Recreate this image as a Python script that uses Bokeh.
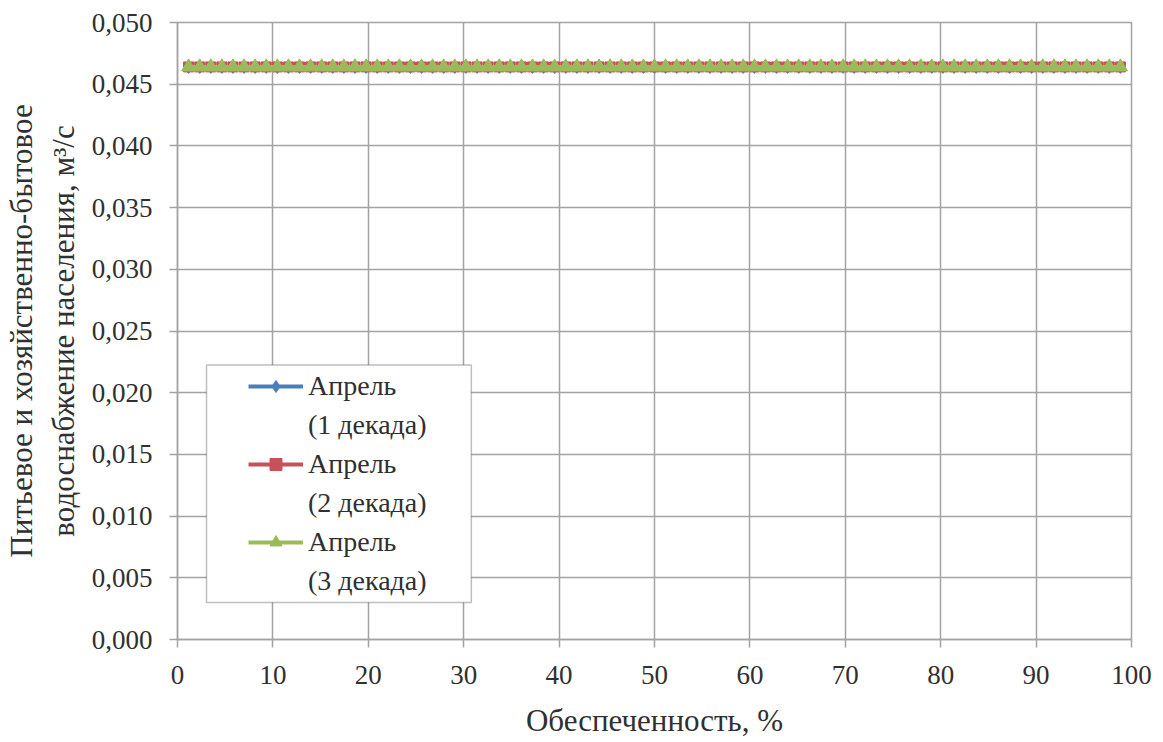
from bokeh.plotting import figure
from bokeh.models import (Range1d, FixedTicker, CustomJSTickFormatter, Legend,
                          LegendItem, BoxAnnotation, ColumnDataSource)
from bokeh.embed import file_html
from bokeh.resources import INLINE

# ---- data ----
probability = [
    1.16, 2.33, 3.49, 4.65, 5.81, 6.98, 8.14, 9.30, 10.47, 11.63,
    12.79, 13.95, 15.12, 16.28, 17.44, 18.60, 19.77, 20.93, 22.09, 23.26,
    24.42, 25.58, 26.74, 27.91, 29.07, 30.23, 31.40, 32.56, 33.72, 34.88,
    36.05, 37.21, 38.37, 39.53, 40.70, 41.86, 43.02, 44.19, 45.35, 46.51,
    47.67, 48.84, 50.00, 51.16, 52.33, 53.49, 54.65, 55.81, 56.98, 58.14,
    59.30, 60.47, 61.63, 62.79, 63.95, 65.12, 66.28, 67.44, 68.60, 69.77,
    70.93, 72.09, 73.26, 74.42, 75.58, 76.74, 77.91, 79.07, 80.23, 81.40,
    82.56, 83.72, 84.88, 86.05, 87.21, 88.37, 89.53, 90.70, 91.86, 93.02,
    94.19, 95.35, 96.51, 97.67, 98.84,
]
april_1 = [
    0.0464, 0.0464, 0.0464, 0.0464, 0.0464, 0.0464, 0.0464, 0.0464, 0.0464, 0.0464,
    0.0464, 0.0464, 0.0464, 0.0464, 0.0464, 0.0464, 0.0464, 0.0464, 0.0464, 0.0464,
    0.0464, 0.0464, 0.0464, 0.0464, 0.0464, 0.0464, 0.0464, 0.0464, 0.0464, 0.0464,
    0.0464, 0.0464, 0.0464, 0.0464, 0.0464, 0.0464, 0.0464, 0.0464, 0.0464, 0.0464,
    0.0464, 0.0464, 0.0464, 0.0464, 0.0464, 0.0464, 0.0464, 0.0464, 0.0464, 0.0464,
    0.0464, 0.0464, 0.0464, 0.0464, 0.0464, 0.0464, 0.0464, 0.0464, 0.0464, 0.0464,
    0.0464, 0.0464, 0.0464, 0.0464, 0.0464, 0.0464, 0.0464, 0.0464, 0.0464, 0.0464,
    0.0464, 0.0464, 0.0464, 0.0464, 0.0464, 0.0464, 0.0464, 0.0464, 0.0464, 0.0464,
    0.0464, 0.0464, 0.0464, 0.0464, 0.0464,
]
april_2 = [
    0.0464, 0.0464, 0.0464, 0.0464, 0.0464, 0.0464, 0.0464, 0.0464, 0.0464, 0.0464,
    0.0464, 0.0464, 0.0464, 0.0464, 0.0464, 0.0464, 0.0464, 0.0464, 0.0464, 0.0464,
    0.0464, 0.0464, 0.0464, 0.0464, 0.0464, 0.0464, 0.0464, 0.0464, 0.0464, 0.0464,
    0.0464, 0.0464, 0.0464, 0.0464, 0.0464, 0.0464, 0.0464, 0.0464, 0.0464, 0.0464,
    0.0464, 0.0464, 0.0464, 0.0464, 0.0464, 0.0464, 0.0464, 0.0464, 0.0464, 0.0464,
    0.0464, 0.0464, 0.0464, 0.0464, 0.0464, 0.0464, 0.0464, 0.0464, 0.0464, 0.0464,
    0.0464, 0.0464, 0.0464, 0.0464, 0.0464, 0.0464, 0.0464, 0.0464, 0.0464, 0.0464,
    0.0464, 0.0464, 0.0464, 0.0464, 0.0464, 0.0464, 0.0464, 0.0464, 0.0464, 0.0464,
    0.0464, 0.0464, 0.0464, 0.0464, 0.0464,
]
april_3 = [
    0.0464, 0.0464, 0.0464, 0.0464, 0.0464, 0.0464, 0.0464, 0.0464, 0.0464, 0.0464,
    0.0464, 0.0464, 0.0464, 0.0464, 0.0464, 0.0464, 0.0464, 0.0464, 0.0464, 0.0464,
    0.0464, 0.0464, 0.0464, 0.0464, 0.0464, 0.0464, 0.0464, 0.0464, 0.0464, 0.0464,
    0.0464, 0.0464, 0.0464, 0.0464, 0.0464, 0.0464, 0.0464, 0.0464, 0.0464, 0.0464,
    0.0464, 0.0464, 0.0464, 0.0464, 0.0464, 0.0464, 0.0464, 0.0464, 0.0464, 0.0464,
    0.0464, 0.0464, 0.0464, 0.0464, 0.0464, 0.0464, 0.0464, 0.0464, 0.0464, 0.0464,
    0.0464, 0.0464, 0.0464, 0.0464, 0.0464, 0.0464, 0.0464, 0.0464, 0.0464, 0.0464,
    0.0464, 0.0464, 0.0464, 0.0464, 0.0464, 0.0464, 0.0464, 0.0464, 0.0464, 0.0464,
    0.0464, 0.0464, 0.0464, 0.0464, 0.0464,
]
series_names = ["Апрель", "Апрель", "Апрель"]
series_decades = ["(1 декада)", "(2 декада)", "(3 декада)"]
x_ticks = [0, 10, 20, 30, 40, 50, 60, 70, 80, 90, 100]
y_ticks = [0.0, 0.005, 0.010, 0.015, 0.020, 0.025, 0.030, 0.035, 0.040, 0.045, 0.050]
x_title = "Обеспеченность, %"
y_title = "Питьевое и хозяйственно-бытовое\nводоснабжение населения, м³/с"

# ---- styles ----
FONT = "Liberation Serif"
TXT = "#303030"
GRID = "#a3a3a3"
colors = ["#4a7ebb", "#c8505a", "#9bbb59"]
markers = ["diamond", "square", "triangle"]
msizes = [13, 10, 14]

p = figure(width=1155, height=740, output_backend="svg", toolbar_location=None,
           x_range=Range1d(0, 100), y_range=Range1d(0, 0.05),
           min_border_left=176, min_border_right=24, min_border_top=22,
           min_border_bottom=100)
p.background_fill_color = "white"
p.border_fill_color = "white"
p.outline_line_color = GRID
p.outline_line_width = 1.5

p.xaxis.ticker = FixedTicker(ticks=x_ticks)
p.yaxis.ticker = FixedTicker(ticks=y_ticks)
p.yaxis.formatter = CustomJSTickFormatter(code="return tick.toFixed(3).replace('.', ',');")
for ax in (p.xaxis, p.yaxis):
    ax.axis_line_color = GRID
    ax.axis_line_width = 1.5
    ax.major_tick_line_color = GRID
    ax.major_tick_line_width = 1.5
    ax.major_tick_in = 0
    ax.major_tick_out = 8
    ax.minor_tick_line_color = None
    ax.major_label_text_font = FONT
    ax.major_label_text_font_size = "27px"
    ax.major_label_text_color = TXT
    ax.axis_label_text_font = FONT
    ax.axis_label_text_font_size = "31px"
    ax.axis_label_text_font_style = "normal"
    ax.axis_label_text_color = TXT
p.xaxis.axis_label = x_title
p.yaxis.axis_label = y_title
p.xaxis.major_label_standoff = 18
p.yaxis.major_label_standoff = 17
p.xaxis.axis_label_standoff = 16
p.yaxis.axis_label_standoff = 8

p.xgrid.grid_line_color = GRID
p.ygrid.grid_line_color = GRID
p.xgrid.grid_line_width = 1.5
p.ygrid.grid_line_width = 1.5

items = []
for vals, col, mk, ms, name, dec in zip([april_1, april_2, april_3], colors, markers,
                                        msizes, series_names, series_decades):
    src = ColumnDataSource(dict(x=probability, y=vals))
    ln = p.line("x", "y", source=src, line_color=col, line_width=4)
    sc = p.scatter("x", "y", source=src, marker=mk, size=ms, fill_color=col, line_color=col)
    dummy = p.scatter(x=[], y=[], marker="square", size=1, fill_alpha=0, line_alpha=0)
    items.append(LegendItem(label=name, renderers=[ln, sc]))
    items.append(LegendItem(label=dec, renderers=[dummy]))

frame = BoxAnnotation(left=3.04, right=30.8, bottom=0.0030, top=0.02225,
                      fill_color="white", fill_alpha=1.0,
                      line_color="#2a2a2a", line_width=1.5)
p.add_layout(frame)

legend = Legend(items=items, location=(63, 34),
                label_text_font=FONT, label_text_font_size="28px",
                label_text_color=TXT, label_height=30, glyph_height=30,
                glyph_width=55, spacing=7, padding=8, label_standoff=5,
                border_line_alpha=0, background_fill_alpha=0)
p.add_layout(legend)

open("out.html", "w").write(file_html(p, INLINE))
